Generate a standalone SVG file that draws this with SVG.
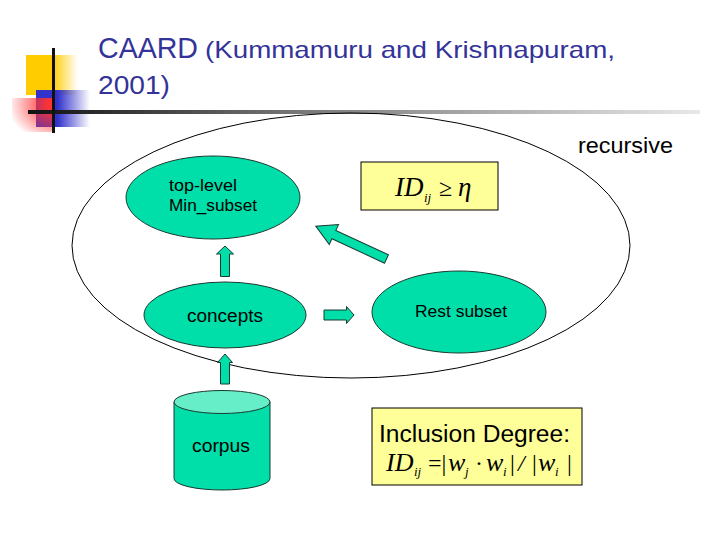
<svg xmlns="http://www.w3.org/2000/svg" width="720" height="540" viewBox="0 0 720 540">
<defs>
<linearGradient id="gy" x1="0" y1="0" x2="1" y2="0"><stop offset="0.5" stop-color="#FFCC00"/><stop offset="1" stop-color="#FFCC00" stop-opacity="0"/></linearGradient>
<linearGradient id="gb" x1="0" y1="0" x2="1" y2="0"><stop offset="0.4" stop-color="#3333CC"/><stop offset="1" stop-color="#3333CC" stop-opacity="0"/></linearGradient>
<radialGradient id="gr" cx="1" cy="0.2" r="1.1"><stop offset="0.15" stop-color="#FF3333"/><stop offset="1" stop-color="#FF3333" stop-opacity="0"/></radialGradient>
<linearGradient id="gl" x1="0" y1="0" x2="1" y2="0"><stop offset="0" stop-color="#111111"/><stop offset="0.4" stop-color="#777777"/><stop offset="1" stop-color="#E8E8E8"/></linearGradient>
<style>
.node{fill:#00DEAA;stroke:#1a3a30;stroke-width:1}
.lbl{font-family:"Liberation Sans",Arial,sans-serif;fill:#000}
.math{font-family:"Liberation Serif","Times New Roman",serif;font-style:italic;fill:#000}
.up{font-style:normal}
.box{fill:#FFFF99;stroke:#000;stroke-width:1}
.arr{fill:#00DEAA;stroke:#1a3a30;stroke-width:1}
</style>
</defs>
<rect width="720" height="540" fill="#fff"/>
<g id="decor">
<rect x="26" y="55" width="52" height="40" fill="url(#gy)"/>
<rect x="36" y="90" width="54" height="37" fill="url(#gb)"/>
<rect x="12" y="98" width="43" height="34" fill="url(#gr)"/>
<rect x="28" y="110" width="672" height="4" fill="url(#gl)"/>
<rect x="52" y="48" width="3" height="85" fill="#111"/>
</g>
<g id="title" fill="#333399" font-family="'Liberation Sans',Arial,sans-serif">
<text x="98" y="58" font-size="29" textLength="100" lengthAdjust="spacingAndGlyphs">CAARD</text>
<text x="205" y="58" font-size="24" textLength="410" lengthAdjust="spacingAndGlyphs">(Kummamuru and Krishnapuram,</text>
<text x="98" y="94" font-size="26" textLength="72" lengthAdjust="spacingAndGlyphs">2001)</text>
</g>
<g id="recursive">
<ellipse cx="351" cy="245.5" rx="279" ry="132.5" fill="none" stroke="#000" stroke-width="1"/>
<text class="lbl" x="578" y="153" font-size="22" textLength="95" lengthAdjust="spacingAndGlyphs">recursive</text>
</g>
<g id="connectors">
<path class="arr" d="M220.5,276.5 V254 H216.5 L225,246 L233.5,254 H229.5 V276.5 Z"/>
<path class="arr" d="M220.5,384 V362.5 H217.5 L225,354 L232.5,362.5 H229.5 V384 Z"/>
<path class="arr" d="M324,310 H346.5 V306.5 L354,315 L346.5,323.5 V320 H324 Z"/>
<path class="arr" transform="translate(386.5,259) rotate(204.9)" d="M0,-4.6 H58 V-11 L78,0 L58,11 V4.6 H0 Z"/>
</g>
<g id="toplevel">
<ellipse class="node" cx="213" cy="197.5" rx="87" ry="41.5"/>
<text class="lbl" x="169" y="191" font-size="17" textLength="68" lengthAdjust="spacingAndGlyphs">top-level</text>
<text class="lbl" x="169" y="211" font-size="17" textLength="88" lengthAdjust="spacingAndGlyphs">Min_subset</text>
</g>
<g id="threshold">
<rect class="box" x="361" y="162" width="137" height="48"/>
<text class="math" y="196" font-size="27"><tspan x="395">ID</tspan><tspan x="424" y="202" font-size="13">ij</tspan><tspan class="up" x="439" y="196" font-size="24">≥</tspan><tspan x="458">η</tspan></text>
</g>
<g id="concepts">
<ellipse class="node" cx="225" cy="315" rx="81" ry="33"/>
<text class="lbl" x="225" y="322" font-size="18" text-anchor="middle" textLength="76" lengthAdjust="spacingAndGlyphs">concepts</text>
</g>
<g id="rest">
<ellipse class="node" cx="459" cy="312" rx="87" ry="41"/>
<text class="lbl" x="461" y="317" font-size="17" text-anchor="middle" textLength="92" lengthAdjust="spacingAndGlyphs">Rest subset</text>
</g>
<g id="corpus">
<path class="node" d="M174,402 V478.5 A48,11.5 0 0 0 270,478.5 V402"/>
<ellipse cx="222" cy="402" rx="48" ry="11.5" fill="#66EEC8" stroke="#1a3a30" stroke-width="1"/>
<text class="lbl" x="221" y="452" font-size="18" text-anchor="middle" textLength="58" lengthAdjust="spacingAndGlyphs">corpus</text>
</g>
<g id="inclusion">
<rect class="box" x="372" y="408" width="210" height="77"/>
<text class="lbl" x="379" y="442" font-size="23" textLength="191" lengthAdjust="spacingAndGlyphs">Inclusion Degree:</text>
<text class="math" y="471" font-size="26"><tspan x="386">ID</tspan><tspan x="414" y="476" font-size="13">ij</tspan><tspan class="up" x="428" y="471" font-size="24">=|</tspan><tspan x="448">w</tspan><tspan x="465" y="476" font-size="13">j</tspan><tspan class="up" x="475" y="471" font-size="24">·</tspan><tspan x="486">w</tspan><tspan x="503" y="476" font-size="13">i</tspan><tspan class="up" x="510" y="471" font-size="24">|</tspan><tspan x="518" font-size="24">/</tspan><tspan class="up" x="532" font-size="24">|</tspan><tspan x="538">w</tspan><tspan x="555" y="476" font-size="13">i</tspan><tspan class="up" x="567" y="471" font-size="24">|</tspan></text>
</g>
</svg>
